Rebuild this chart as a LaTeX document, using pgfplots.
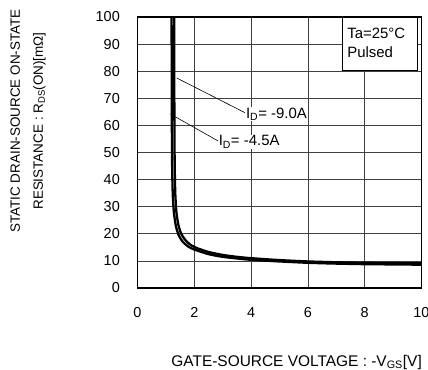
\documentclass[border=0pt]{standalone}
\usepackage{fontspec}
\setmainfont{Liberation Sans}
\usepackage{pgfplots}
\pgfplotsset{compat=1.18}

\begin{document}
\begin{tikzpicture}[x=1bp,y=1bp]
% page frame: axis box sits at (0,0)-(284,271)
\useasboundingbox (-137.5,-82) rectangle (290.5,288);
\begin{axis}[
  at={(0,0)}, anchor=south west,
  scale only axis, width=284bp, height=271bp,
  xmin=0, xmax=10, ymin=0, ymax=100,
  xtick={0,2,...,10}, ytick={0,10,...,100},
  grid=major,
  major grid style={black!75, line width=0.8bp},
  major tick length=0pt,
  axis line style={line width=1.8bp},
  /pgf/number format/assume math mode=true,
  ticklabel style={font=\fontsize{14.5}{16}\selectfont},
  yticklabel style={inner sep=0pt, anchor=east, xshift=-17.5bp},
  xticklabel style={inner sep=0pt, anchor=north, yshift=-19bp},
  clip=false,
]
% I_D = -4.5 A
\addplot[black, line width=2.3bp, smooth, tension=0.4] coordinates {
 (1.200,100) (1.205,80) (1.210,60) (1.220,45) (1.240,35) (1.280,28)
 (1.350,23) (1.450,19.5) (1.600,17) (1.800,15.2) (2.000,14.2)
 (2.500,12.5) (3.000,11.5) (3.500,10.9) (4.000,10.4) (5.000,9.8)
 (6.000,9.3) (7.000,9.0) (8.000,8.8) (9.000,8.7) (10.000,8.6)
};
% I_D = -9.0 A
\addplot[black, line width=2.3bp, smooth, tension=0.4] coordinates {
 (1.290,100) (1.295,80) (1.300,60) (1.310,45) (1.330,35) (1.370,28)
 (1.440,23.3) (1.540,20) (1.700,17.5) (1.900,15.7) (2.100,14.7)
 (2.500,13.3) (3.000,12.2) (3.500,11.5) (4.000,11.0) (5.000,10.3)
 (6.000,9.8) (7.000,9.5) (8.000,9.3) (9.000,9.2) (10.000,9.1)
};
% leader lines and current labels
\draw[black, line width=0.6bp] (axis cs:1.38,77.5) -- (axis cs:3.80,64.6);
\draw[black, line width=0.6bp] (axis cs:1.16,64.2) -- (axis cs:2.88,54.0);
\node[anchor=base west, fill=white, inner sep=1bp,
      font=\fontsize{15}{17}\selectfont] at (axis cs:3.78,62.7)
      {I\textsubscript{D}= -9.0A};
\node[anchor=base west, fill=white, inner sep=1bp,
      font=\fontsize{15}{17}\selectfont] at (axis cs:2.82,52.4)
      {I\textsubscript{D}= -4.5A};
% condition box
\draw[black, line width=0.9bp, fill=white] (axis cs:7.20,80.1) rectangle (axis cs:9.84,100);
\node[anchor=base west, inner sep=0pt, font=\fontsize{15}{17}\selectfont]
      at (axis cs:7.38,91.9) {Ta=25°C};
\node[anchor=base west, inner sep=0pt, font=\fontsize{15}{17}\selectfont]
      at (axis cs:7.38,84.9) {Pulsed};
\end{axis}
% axis titles
\node[rotate=90, anchor=base, inner sep=0pt, font=\fontsize{13.5}{15}\selectfont]
  at (-117.7,167) {STATIC DRAIN-SOURCE ON-STATE};
\node[rotate=90, anchor=base, inner sep=0pt, font=\fontsize{13.5}{15}\selectfont]
  at (-94.7,167) {RESISTANCE : R\textsubscript{DS}(ON)[mΩ]};
\node[anchor=base east, inner sep=0pt, font=\fontsize{15.5}{17}\selectfont]
  at (284.5,-78) {GATE-SOURCE VOLTAGE : -V\textsubscript{GS}[V]};
\end{tikzpicture}
\end{document}
